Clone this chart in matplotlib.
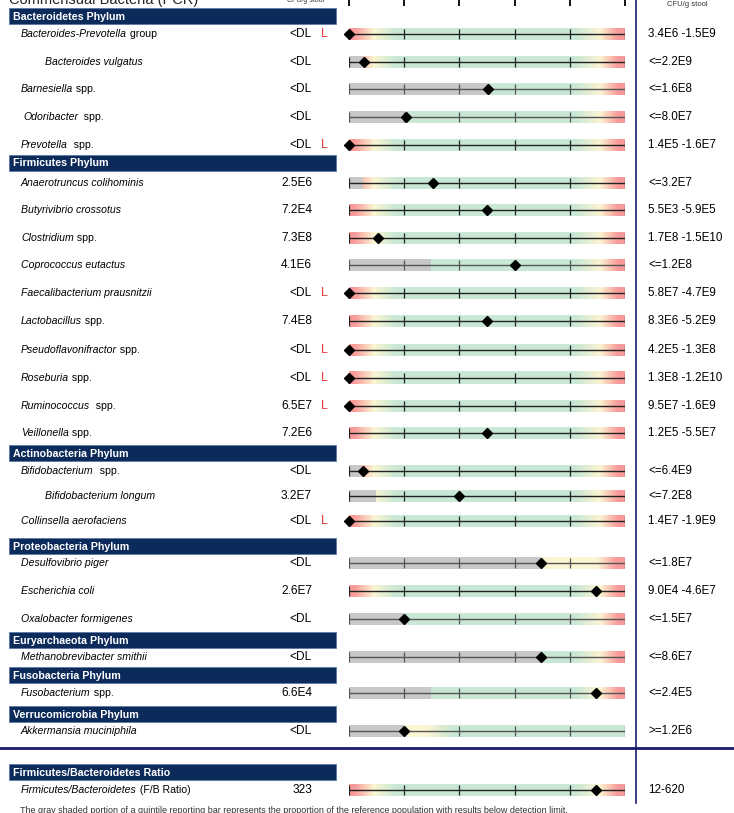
import numpy as np
import matplotlib
matplotlib.use("Agg")
import matplotlib.pyplot as plt
from matplotlib.colors import to_rgb
from matplotlib.patches import Rectangle

plt.rcParams['font.family'] = ['Liberation Sans', 'DejaVu Sans']

# ---- data ----
names = [
    ("Bacteroides-Prevotella", " group"), ("Bacteroides vulgatus", ""),
    ("Barnesiella", " spp."), ("Odoribacter", "  spp."), ("Prevotella", "  spp."),
    ("Anaerotruncus colihominis", ""), ("Butyrivibrio crossotus", ""),
    ("Clostridium", " spp."), ("Coprococcus eutactus", ""),
    ("Faecalibacterium prausnitzii", ""), ("Lactobacillus", " spp."),
    ("Pseudoflavonifractor", " spp."), ("Roseburia", " spp."),
    ("Ruminococcus", "  spp."), ("Veillonella", " spp."),
    ("Bifidobacterium", "  spp."), ("Bifidobacterium longum", ""),
    ("Collinsella aerofaciens", ""), ("Desulfovibrio piger", ""),
    ("Escherichia coli", ""), ("Oxalobacter formigenes", ""),
    ("Methanobrevibacter smithii", ""), ("Fusobacterium", " spp."),
    ("Akkermansia muciniphila", ""), ("Firmicutes/Bacteroidetes", " (F/B Ratio)"),
]
results = ["<DL", "<DL", "<DL", "<DL", "<DL", "2.5E6", "7.2E4", "7.3E8", "4.1E6",
           "<DL", "7.4E8", "<DL", "<DL", "6.5E7", "7.2E6", "<DL", "3.2E7", "<DL",
           "<DL", "2.6E7", "<DL", "<DL", "6.6E4", "<DL", "323"]
low_flag = [1, 0, 0, 0, 1, 0, 0, 0, 0, 1, 0, 1, 1, 1, 0, 0, 0, 1, 0, 0, 0, 0, 0, 0, 0]
ref_ranges = ["3.4E6 -1.5E9", "<=2.2E9", "<=1.6E8", "<=8.0E7", "1.4E5 -1.6E7",
              "<=3.2E7", "5.5E3 -5.9E5", "1.7E8 -1.5E10", "<=1.2E8", "5.8E7 -4.7E9",
              "8.3E6 -5.2E9", "4.2E5 -1.3E8", "1.3E8 -1.2E10", "9.5E7 -1.6E9",
              "1.2E5 -5.5E7", "<=6.4E9", "<=7.2E8", "1.4E7 -1.9E9", "<=1.8E7",
              "9.0E4 -4.6E7", "<=1.5E7", "<=8.6E7", "<=2.4E5", ">=1.2E6", "12-620"]
# marker position on the quintile bar (0..5)
quintile_pos = [0, 0.27, 2.52, 1.03, 0, 1.52, 2.5, 0.53, 3.0, 0, 2.5, 0, 0, 0, 2.5,
                0.25, 2.0, 0, 3.48, 4.47, 1.0, 3.48, 4.47, 1.0, 4.47]
# share of the bar below detection limit (gray)
below_dl = [0, 0.25, 2.52, 1.03, 0, 0.25, 0, 0, 1.49, 0, 0, 0, 0, 0, 0,
            0.22, 0.49, 0, 3.48, 0, 1.0, 3.48, 1.49, 1.0, 0]
bar_kind = ["both"] * 18 + ["late"] + ["both"] * 4 + ["low"] + ["both"]
sections = ["Bacteroidetes Phylum", "Firmicutes Phylum", "Actinobacteria Phylum",
            "Proteobacteria Phylum", "Euryarchaeota Phylum", "Fusobacteria Phylum",
            "Verrucomicrobia Phylum", "Firmicutes/Bacteroidetes Ratio"]

# ---- layout (pixels from top) ----
row_y = [34, 62, 89, 117, 145, 183, 210, 238, 265, 293, 321, 350, 378, 406, 433,
         471, 496, 521, 563, 591, 619, 657, 693, 731, 790]
name_x = [21, 45, 21, 23, 21, 21, 21, 21, 21, 21, 21, 21, 21, 21, 21,
          21, 45, 21, 21, 21, 21, 21, 21, 21, 21]
section_top = [8, 155, 445, 538, 632, 667, 706, 764]
navy = "#0c2b5b"

red, yel, grn, gray = to_rgb("#f99a9a"), to_rgb("#fbf5d2"), to_rgb("#c9e7d5"), to_rgb("#c8c8c8")
stops = {
    "both": [(0, red), (0.1, red), (0.45, yel), (0.85, grn), (4.1, grn), (4.55, yel), (4.88, red), (5, red)],
    "late": [(0, grn), (3.3, grn), (3.6, yel), (4.5, yel), (4.85, red), (5, red)],
    "low": [(0, yel), (1.4, yel), (1.9, grn), (5, grn)],
}

fig = plt.figure(figsize=(7.34, 8.13), dpi=100)
ax = fig.add_axes([0, 0, 1, 1])
ax.set_xlim(0, 734)
ax.set_ylim(813, 0)
ax.axis("off")

gx0, gx1 = 349, 625
axg = fig.add_axes([gx0 / 734, 0, (gx1 - gx0) / 734, 1])
axg.patch.set_alpha(0)
for s in axg.spines.values():
    s.set_visible(False)
axg.set_yticks([])
axg.set_xticks(range(6))
axg.tick_params(axis="x", top=True, bottom=False, direction="in", length=4.5,
                width=1.3, labeltop=False, labelbottom=False, color="black")

# title bits cut off at top, as in the report
ax.text(9, 4, "Commensual Bacteria (PCR)", fontsize=10.5, color="#222", va="baseline")
ax.text(306, 2, "CFU/g stool", fontsize=5, color="#333", ha="center", va="baseline")
ax.text(687, 6, "CFU/g stool", fontsize=5.5, color="#333", ha="center", va="baseline")

for title, top in zip(sections, section_top):
    ax.add_patch(Rectangle((9, top), 327, 16, fc=navy, ec="#5a7aa8", lw=0.6))
    ax.text(13, top + 8.5, title, color="white", fontsize=7.7, fontweight="bold", va="center")

xs = np.linspace(0, 5, 600)
for i, y in enumerate(row_y):
    st = stops[bar_kind[i]]
    px = [p for p, _ in st]
    img = np.stack([np.interp(xs, px, [c[k] for _, c in st]) for k in range(3)], axis=-1)
    img[xs < below_dl[i]] = gray
    axg.imshow(img[None, :, :], extent=(0, 5, y + 6, y - 6), aspect="auto",
               interpolation="nearest", zorder=1)
    lc = "#555" if below_dl[i] > 0.9 else "#222"
    axg.plot([0, 5], [y, y], color=lc, lw=1, zorder=2)
    axg.vlines(range(6), y - 5, y + 5, color=lc, lw=0.9, zorder=2)
    axg.plot(quintile_pos[i], y, "D", ms=4.8, color="black", zorder=5, clip_on=False)

    ital, plain = names[i]
    t = ax.text(name_x[i], y, ital, style="italic", fontsize=7.6, va="center", color="black")
    if plain:
        ax.annotate(plain, xy=(1, 0), xycoords=t, va="bottom", ha="left",
                    fontsize=7.6, color="black")
    ax.text(312, y, results[i], fontsize=8.6, ha="right", va="center", color="black")
    if low_flag[i]:
        ax.text(321, y, "L", fontsize=9, ha="left", va="center", color="#e8383d")
    ax.text(648, y, ref_ranges[i], fontsize=8.4, ha="left", va="center", color="black")

axg.set_xlim(0, 5)
axg.set_ylim(813, 0)

ax.plot([636, 636], [0, 803], color="#1a1a70", lw=1.2)
ax.plot([0, 734], [748, 748], color="#1a1a70", lw=2)

ax.text(20, 806, "The gray shaded portion of a quintile reporting bar represents the proportion "
        "of the reference population with results below detection limit.",
        fontsize=6.5, color="#333", va="top")

fig.savefig("out.png", dpi=100)
